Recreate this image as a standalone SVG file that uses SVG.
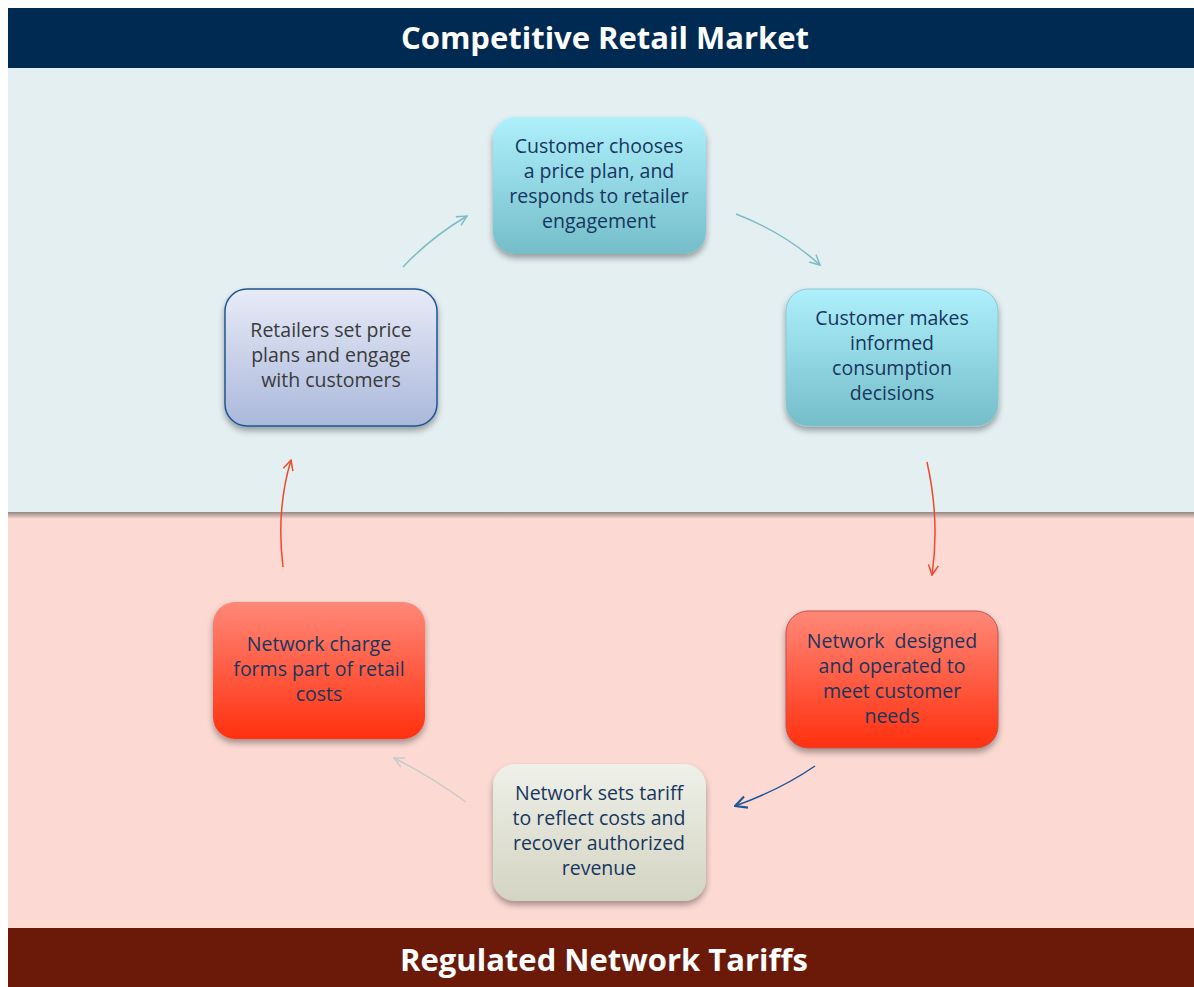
<svg xmlns="http://www.w3.org/2000/svg" width="1194" height="987" viewBox="0 0 1194 987">
<style>
.t{font-family:"Open Sans","Liberation Sans",sans-serif;font-size:19.5px;fill:#17365D;text-anchor:middle;white-space:pre}
.g{fill:#3a3a3a}
.h{font-family:"Open Sans","Liberation Sans",sans-serif;font-weight:bold;font-size:31px;fill:#fff;text-anchor:middle}
.c{fill:none;stroke-width:1.5}
</style>
<defs>
<linearGradient id="cy" x1="0" y1="0" x2="0" y2="1"><stop offset="0" stop-color="#AEF0FC"/><stop offset="1" stop-color="#74BDC9"/></linearGradient>
<linearGradient id="bl" x1="0" y1="0" x2="0" y2="1"><stop offset="0" stop-color="#E8EBF7"/><stop offset="1" stop-color="#AAB8DB"/></linearGradient>
<linearGradient id="rd" x1="0" y1="0" x2="0" y2="1"><stop offset="0" stop-color="#FF8878"/><stop offset="1" stop-color="#FF300F"/></linearGradient>
<linearGradient id="gy" x1="0" y1="0" x2="0" y2="1"><stop offset="0" stop-color="#EFF0E8"/><stop offset="1" stop-color="#D3D4C2"/></linearGradient>
<linearGradient id="sh" x1="0" y1="0" x2="0" y2="1"><stop offset="0" stop-color="#938781"/><stop offset="1" stop-color="#FCD9D3"/></linearGradient>
<filter id="ds" x="-10%" y="-10%" width="120%" height="130%"><feDropShadow dx="0" dy="4" stdDeviation="3" flood-color="#000" flood-opacity="0.35"/></filter>
<marker id="aC" viewBox="0 0 12 12" refX="11" refY="6" markerWidth="12" markerHeight="12" markerUnits="userSpaceOnUse" orient="auto"><path d="M1,1 L11,6 L1,11" fill="none" stroke="#7DBBC7" stroke-width="1.5"/></marker>
<marker id="aR" viewBox="0 0 12 12" refX="11" refY="6" markerWidth="12" markerHeight="12" markerUnits="userSpaceOnUse" orient="auto"><path d="M1,1 L11,6 L1,11" fill="none" stroke="#F04A2A" stroke-width="1.5"/></marker>
<marker id="aB" viewBox="0 0 12 12" refX="11" refY="6" markerWidth="14" markerHeight="14" markerUnits="userSpaceOnUse" orient="auto"><path d="M1,1 L11,6 L1,11" fill="none" stroke="#1F5594" stroke-width="1.8"/></marker>
<marker id="aG" viewBox="0 0 12 12" refX="11" refY="6" markerWidth="12" markerHeight="12" markerUnits="userSpaceOnUse" orient="auto"><path d="M1,1 L11,6 L1,11" fill="none" stroke="#C9CCC6" stroke-width="1.5"/></marker>
</defs>
<rect x="0" y="0" width="1194" height="987" fill="#fff"/>
<rect x="8" y="68" width="1186" height="444" fill="#E4EFF1"/>
<rect x="8" y="512" width="1186" height="416" fill="#FCD9D3"/>
<rect x="8" y="512" width="1186" height="7" fill="url(#sh)"/>
<rect x="8" y="8" width="1186" height="60" fill="#002A52"/>
<text class="h" x="605" y="49">Competitive Retail Market</text>
<rect x="8" y="928" width="1186" height="59" fill="#6B1A0A"/>
<text class="h" x="604" y="971">Regulated Network Tariffs</text>

<g id="n1"><rect x="493" y="117" width="213" height="137" rx="22" fill="url(#cy)" filter="url(#ds)"/>
<text class="t" x="599"><tspan x="599" y="153">Customer chooses</tspan><tspan x="599" y="178">a price plan, and</tspan><tspan x="599" y="203">responds to retailer</tspan><tspan x="599" y="228">engagement</tspan></text></g>
<g id="n2"><rect x="786" y="289" width="212" height="137" rx="22" fill="url(#cy)" stroke="#8CC5D0" stroke-width="1" filter="url(#ds)"/>
<text class="t" x="892"><tspan x="892" y="325">Customer makes</tspan><tspan x="892" y="350">informed</tspan><tspan x="892" y="375">consumption</tspan><tspan x="892" y="400">decisions</tspan></text></g>
<g id="n3"><rect x="786" y="611" width="212" height="137" rx="22" fill="url(#rd)" stroke="#C0504D" stroke-width="1" filter="url(#ds)"/>
<text class="t" x="892"><tspan x="892" y="648">Network  designed</tspan><tspan x="892" y="673">and operated to</tspan><tspan x="892" y="698">meet customer</tspan><tspan x="892" y="723">needs</tspan></text></g>
<g id="n4"><rect x="493" y="764" width="213" height="137" rx="22" fill="url(#gy)" filter="url(#ds)"/>
<text class="t" x="599"><tspan x="599" y="800">Network sets tariff</tspan><tspan x="599" y="825">to reflect costs and</tspan><tspan x="599" y="850">recover authorized</tspan><tspan x="599" y="875">revenue</tspan></text></g>
<g id="n5"><rect x="213" y="602" width="212" height="137" rx="22" fill="url(#rd)" filter="url(#ds)"/>
<text class="t" x="319"><tspan x="319" y="651">Network charge</tspan><tspan x="319" y="676">forms part of retail</tspan><tspan x="319" y="701">costs</tspan></text></g>
<g id="n6"><rect x="225" y="289" width="212" height="137" rx="22" fill="url(#bl)" stroke="#1F5594" stroke-width="1.5" filter="url(#ds)"/>
<text class="t g" x="331"><tspan x="331" y="337">Retailers set price</tspan><tspan x="331" y="362">plans and engage</tspan><tspan x="331" y="387">with customers</tspan></text></g>

<g id="connectors">
<path class="c" d="M403,267 Q430,238 467,216" stroke="#7DBBC7" marker-end="url(#aC)"/>
<path class="c" d="M736,214 Q785,233 820,265" stroke="#7DBBC7" marker-end="url(#aC)"/>
<path class="c" d="M927,462 Q940,520 932,575" stroke="#F04A2A" marker-end="url(#aR)"/>
<path class="c" d="M815,766 Q780,790 735,806" stroke="#1F5594" stroke-width="2" marker-end="url(#aB)"/>
<path class="c" d="M466,802 Q430,776 394,758" stroke="#C9CCC6" marker-end="url(#aG)"/>
<path class="c" d="M283,567 Q276,510 291,460" stroke="#F04A2A" marker-end="url(#aR)"/>
</g>
</svg>
